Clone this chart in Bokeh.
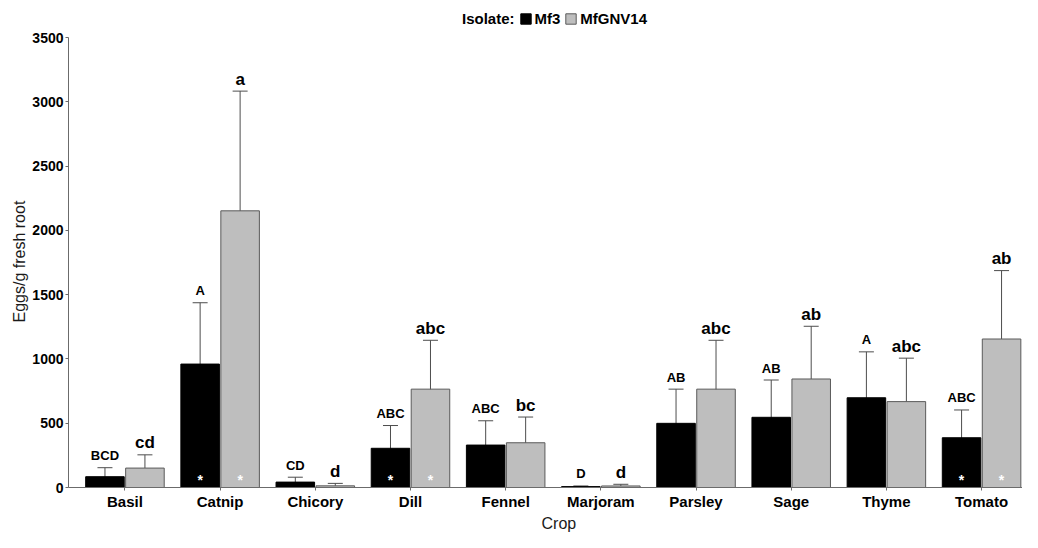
from bokeh.plotting import figure
from bokeh.models import (ColumnDataSource, Range1d, FixedTicker, Whisker, TeeHead,
                          Legend, LegendItem, Title)
from bokeh.core.properties import value
from bokeh.embed import file_html
from bokeh.resources import INLINE

crops = ["Basil", "Catnip", "Chicory", "Dill", "Fennel", "Marjoram", "Parsley", "Sage", "Thyme", "Tomato"]
mf3_mean = [84, 960, 42, 305, 330, 7, 499, 546, 698, 387]
mf3_se = [70, 477, 38, 177, 189, 5, 266, 290, 357, 216]
gnv_mean = [151, 2152, 13, 765, 348, 12, 765, 844, 668, 1155]
gnv_se = [103, 931, 19, 380, 200, 13, 380, 410, 338, 532]
mf3_letters = ["BCD", "A", "CD", "ABC", "ABC", "D", "AB", "AB", "A", "ABC"]
gnv_letters = ["cd", "a", "d", "abc", "bc", "d", "abc", "ab", "abc", "ab"]
significant = [False, True, False, True, False, False, False, False, False, True]
y_ticks = [0, 500, 1000, 1500, 2000, 2500, 3000, 3500]

FONT = "Liberation Sans"
DODGE = 0.21
BAR_W = 0.405
FRAME_TOP = 5
FRAME_BOTTOM = 487
AXIS_TOP_PX = 37                     # where 3500 sits
Y_MAX = 3500
Y_END = Y_MAX * (FRAME_BOTTOM - FRAME_TOP) / (FRAME_BOTTOM - AXIS_TOP_PX)
FRAME_H = FRAME_BOTTOM - FRAME_TOP

idx = list(range(len(crops)))
mf3_x = [i - DODGE for i in idx]
gnv_x = [i + DODGE for i in idx]

src_mf3 = ColumnDataSource(dict(
    x=mf3_x, top=mf3_mean,
    upper=[m + s for m, s in zip(mf3_mean, mf3_se)],
    lower=[max(m - s, 0) for m, s in zip(mf3_mean, mf3_se)],
    lab=mf3_letters))
src_gnv = ColumnDataSource(dict(
    x=gnv_x, top=gnv_mean,
    upper=[m + s for m, s in zip(gnv_mean, gnv_se)],
    lower=[max(m - s, 0) for m, s in zip(gnv_mean, gnv_se)],
    lab=gnv_letters))

star_x = [x for x, s in zip(mf3_x, significant) if s] + [x for x, s in zip(gnv_x, significant) if s]
src_star = ColumnDataSource(dict(x=star_x, y=[0] * len(star_x), t=["*"] * len(star_x)))

p = figure(width=1022, height=532, output_backend="svg", toolbar_location=None,
           x_range=Range1d(-0.593, 9.43), y_range=Range1d(0, Y_END),
           min_border_left=68, min_border_right=0, min_border_top=FRAME_TOP,
           min_border_bottom=532 - FRAME_BOTTOM)
p.outline_line_color = None
p.xgrid.visible = False
p.ygrid.visible = False
p.background_fill_color = "white"

r_mf3 = p.vbar(x="x", top="top", width=BAR_W, source=src_mf3,
               fill_color="black", line_color="black", line_width=1)
r_gnv = p.vbar(x="x", top="top", width=BAR_W, source=src_gnv,
               fill_color="#bebebe", line_color="#5a5a5a", line_width=1)

for src in (src_mf3, src_gnv):
    w = Whisker(source=src, base="x", upper="upper", lower="lower", dimension="height",
                line_color="#4d4d4d", line_width=1,
                upper_head=TeeHead(size=15, line_color="#4d4d4d", line_width=1),
                lower_head=TeeHead(size=15, line_color="#4d4d4d", line_width=1))
    p.add_layout(w)

p.text(x="x", y="upper", text="lab", source=src_mf3, text_font=value(FONT),
       text_font_style="bold", text_font_size="13px", text_align="center",
       text_baseline="alphabetic", y_offset=-12, text_color="black")
p.text(x="x", y="upper", text="lab", source=src_gnv, text_font=value(FONT),
       text_font_style="bold", text_font_size="17px", text_align="center",
       text_baseline="alphabetic", y_offset=-12, text_color="black")
p.text(x="x", y="y", text="t", source=src_star, text_font=value(FONT),
       text_font_style="bold", text_font_size="14px", text_align="center",
       text_baseline="alphabetic", y_offset=-8, text_color="white")

# axes
p.xaxis.ticker = FixedTicker(ticks=idx)
p.xaxis.major_label_overrides = {i: c for i, c in enumerate(crops)}
p.yaxis.ticker = FixedTicker(ticks=y_ticks)
p.yaxis.bounds = (0, Y_MAX)
for ax in (p.xaxis[0], p.yaxis[0]):
    ax.axis_line_color = "#6b6b6b"
    ax.major_tick_line_color = "#6b6b6b"
    ax.major_tick_out = 3
    ax.major_tick_in = 0
    ax.minor_tick_line_color = None
    ax.major_label_text_font = FONT
    ax.major_label_text_font_style = "bold"
    ax.major_label_text_color = "black"
p.xaxis.major_label_text_font_size = "15px"
p.yaxis.major_label_text_font_size = "14px"
p.xaxis.major_label_standoff = 2
p.yaxis.major_label_standoff = 2

# axis titles as side-panel titles so they can be positioned like the reference
ytitle = Title(text="Eggs/g fresh root", align="left", offset=165,
               text_font=FONT, text_font_size="16px", text_font_style="normal",
               text_color="#1a1a1a", standoff=4)
p.add_layout(ytitle, "left")
xtitle = Title(text="Crop", align="left", offset=473,
               text_font=FONT, text_font_size="16px", text_font_style="normal",
               text_color="#1a1a1a", standoff=0)
p.add_layout(xtitle, "below")

# legend (inside the top strip of the frame, above the 3500 line)
r_blank = p.vbar(x=[0], top=[0], width=0.0, fill_alpha=0, line_alpha=0)
legend = Legend(items=[LegendItem(label="Isolate:", renderers=[r_blank]),
                       LegendItem(label="Mf3", renderers=[r_mf3]),
                       LegendItem(label="MfGNV14", renderers=[r_gnv])],
                orientation="horizontal", location=(378, FRAME_H - 22),
                label_text_font=FONT, label_text_font_style="bold",
                label_text_font_size="15px", label_text_color="black",
                glyph_width=13, glyph_height=13, label_standoff=3, spacing=4,
                padding=0, margin=0, border_line_alpha=0, background_fill_alpha=0,
                label_height=16)
p.add_layout(legend, "center")

open("out.html", "w").write(file_html(p, INLINE))
